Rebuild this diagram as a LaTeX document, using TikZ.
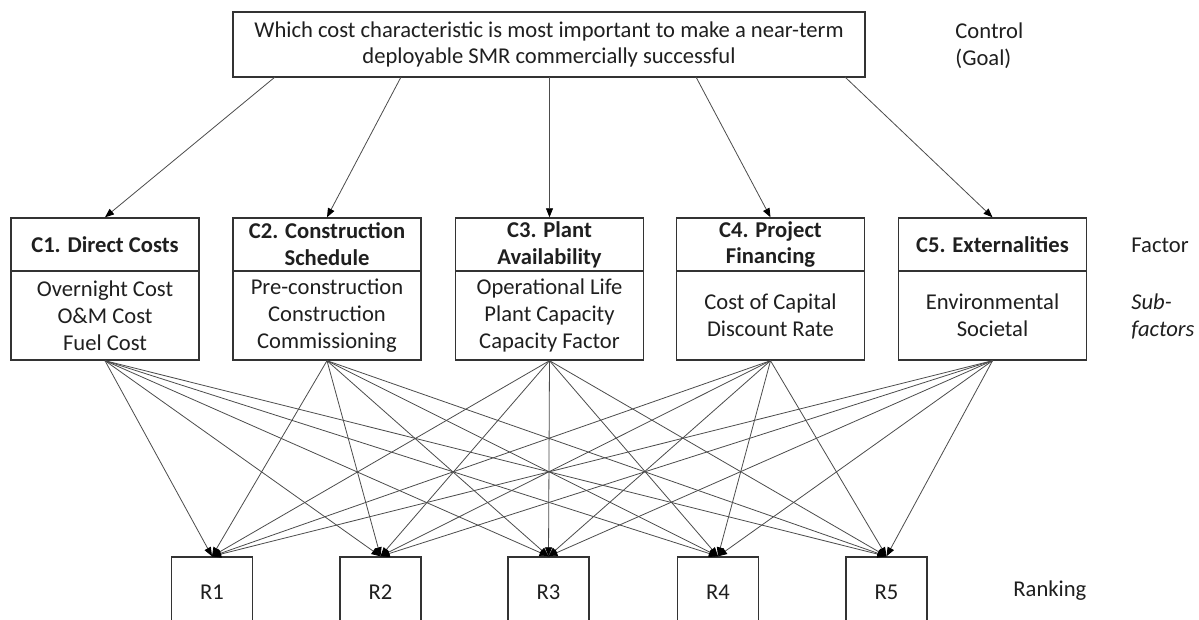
\documentclass[tikz,border=0pt]{standalone}
\usepackage{fontspec}
\setmainfont{Carlito}
\usetikzlibrary{arrows.meta}
\begin{document}
\begin{tikzpicture}[x=0.5pt,y=-0.5pt,
  txt/.style={font=\fontsize{11.3}{13.4}\selectfont, text=black!88},
  box/.style={txt, draw=black!80, line width=0.7pt, inner sep=0pt, align=center},
  goalbox/.style={box, minimum width=316pt, minimum height=32.5pt},
  headbox/.style={box, minimum width=94pt, minimum height=26.5pt, font=\fontsize{11.3}{13.4}\selectfont\bfseries},
  bodybox/.style={box, minimum width=94pt, minimum height=44.5pt},
  rbox/.style={box, minimum width=40.5pt, minimum height=35pt},
  lbl/.style={txt, anchor=west, align=left, inner sep=0pt},
  conn/.style={draw=black!70, line width=0.4pt, -{Triangle[length=4.5pt,width=3.5pt,color=black]}}
]
\clip (0,0) rectangle (1199,620);
\fill[white] (0,0) rectangle (1199,620);

% goal
\node[goalbox] (goal) at (549,44.5) {Which cost characteristic is most important to make a near-term\\deployable SMR commercially successful};
\node[lbl] (control) at (955,46) {Control\\(Goal)};

% factors
\node[headbox] (h1) at (105,244.5) {C1. Direct Costs};
\node[bodybox] (b1) at (105,315.5) {Overnight Cost\\O\&M Cost\\Fuel Cost};
\node[headbox] (h2) at (327,244.5) {C2. Construction\\Schedule};
\node[bodybox] (b2) at (327,315.5) {Pre-construction\\Construction\\Commissioning};
\node[headbox] (h3) at (549.5,244.5) {C3. Plant\\Availability};
\node[bodybox] (b3) at (549.5,315.5) {Operational Life\\Plant Capacity\\Capacity Factor};
\node[headbox] (h4) at (770.5,244.5) {C4. Project\\Financing};
\node[bodybox] (b4) at (770.5,315.5) {Cost of Capital\\Discount Rate};
\node[headbox] (h5) at (992.5,244.5) {C5. Externalities};
\node[bodybox] (b5) at (992.5,315.5) {Environmental\\Societal};

\node[lbl] (factor) at (1131,245) {Factor};
\node[lbl, font=\fontsize{11.3}{13.4}\selectfont\itshape] (subf) at (1131,316.5) {Sub-\\factors};

% rankings
\node[rbox] (r1) at (212,592) {R1};
\node[rbox] (r2) at (380.5,592) {R2};
\node[rbox] (r3) at (548.5,592) {R3};
\node[rbox] (r4) at (718,592) {R4};
\node[rbox] (r5) at (886.5,592) {R5};
\node[lbl] (ranking) at (1013,591) {Ranking};

% goal connectors
\coordinate (g1) at (275,77);
\coordinate (g2) at (401,77);
\coordinate (g3) at (549.5,77);
\coordinate (g4) at (696,77);
\coordinate (g5) at (845,77);
\foreach \i in {1,...,5} {
  \draw[conn] (g\i) -- (h\i.north);
}

% factor to ranking connectors
\foreach \i in {1,...,5} {
  \foreach \j in {1,...,5} {
    \draw[conn] (b\i.south) -- (r\j.north);
  }
}
\end{tikzpicture}
\end{document}
